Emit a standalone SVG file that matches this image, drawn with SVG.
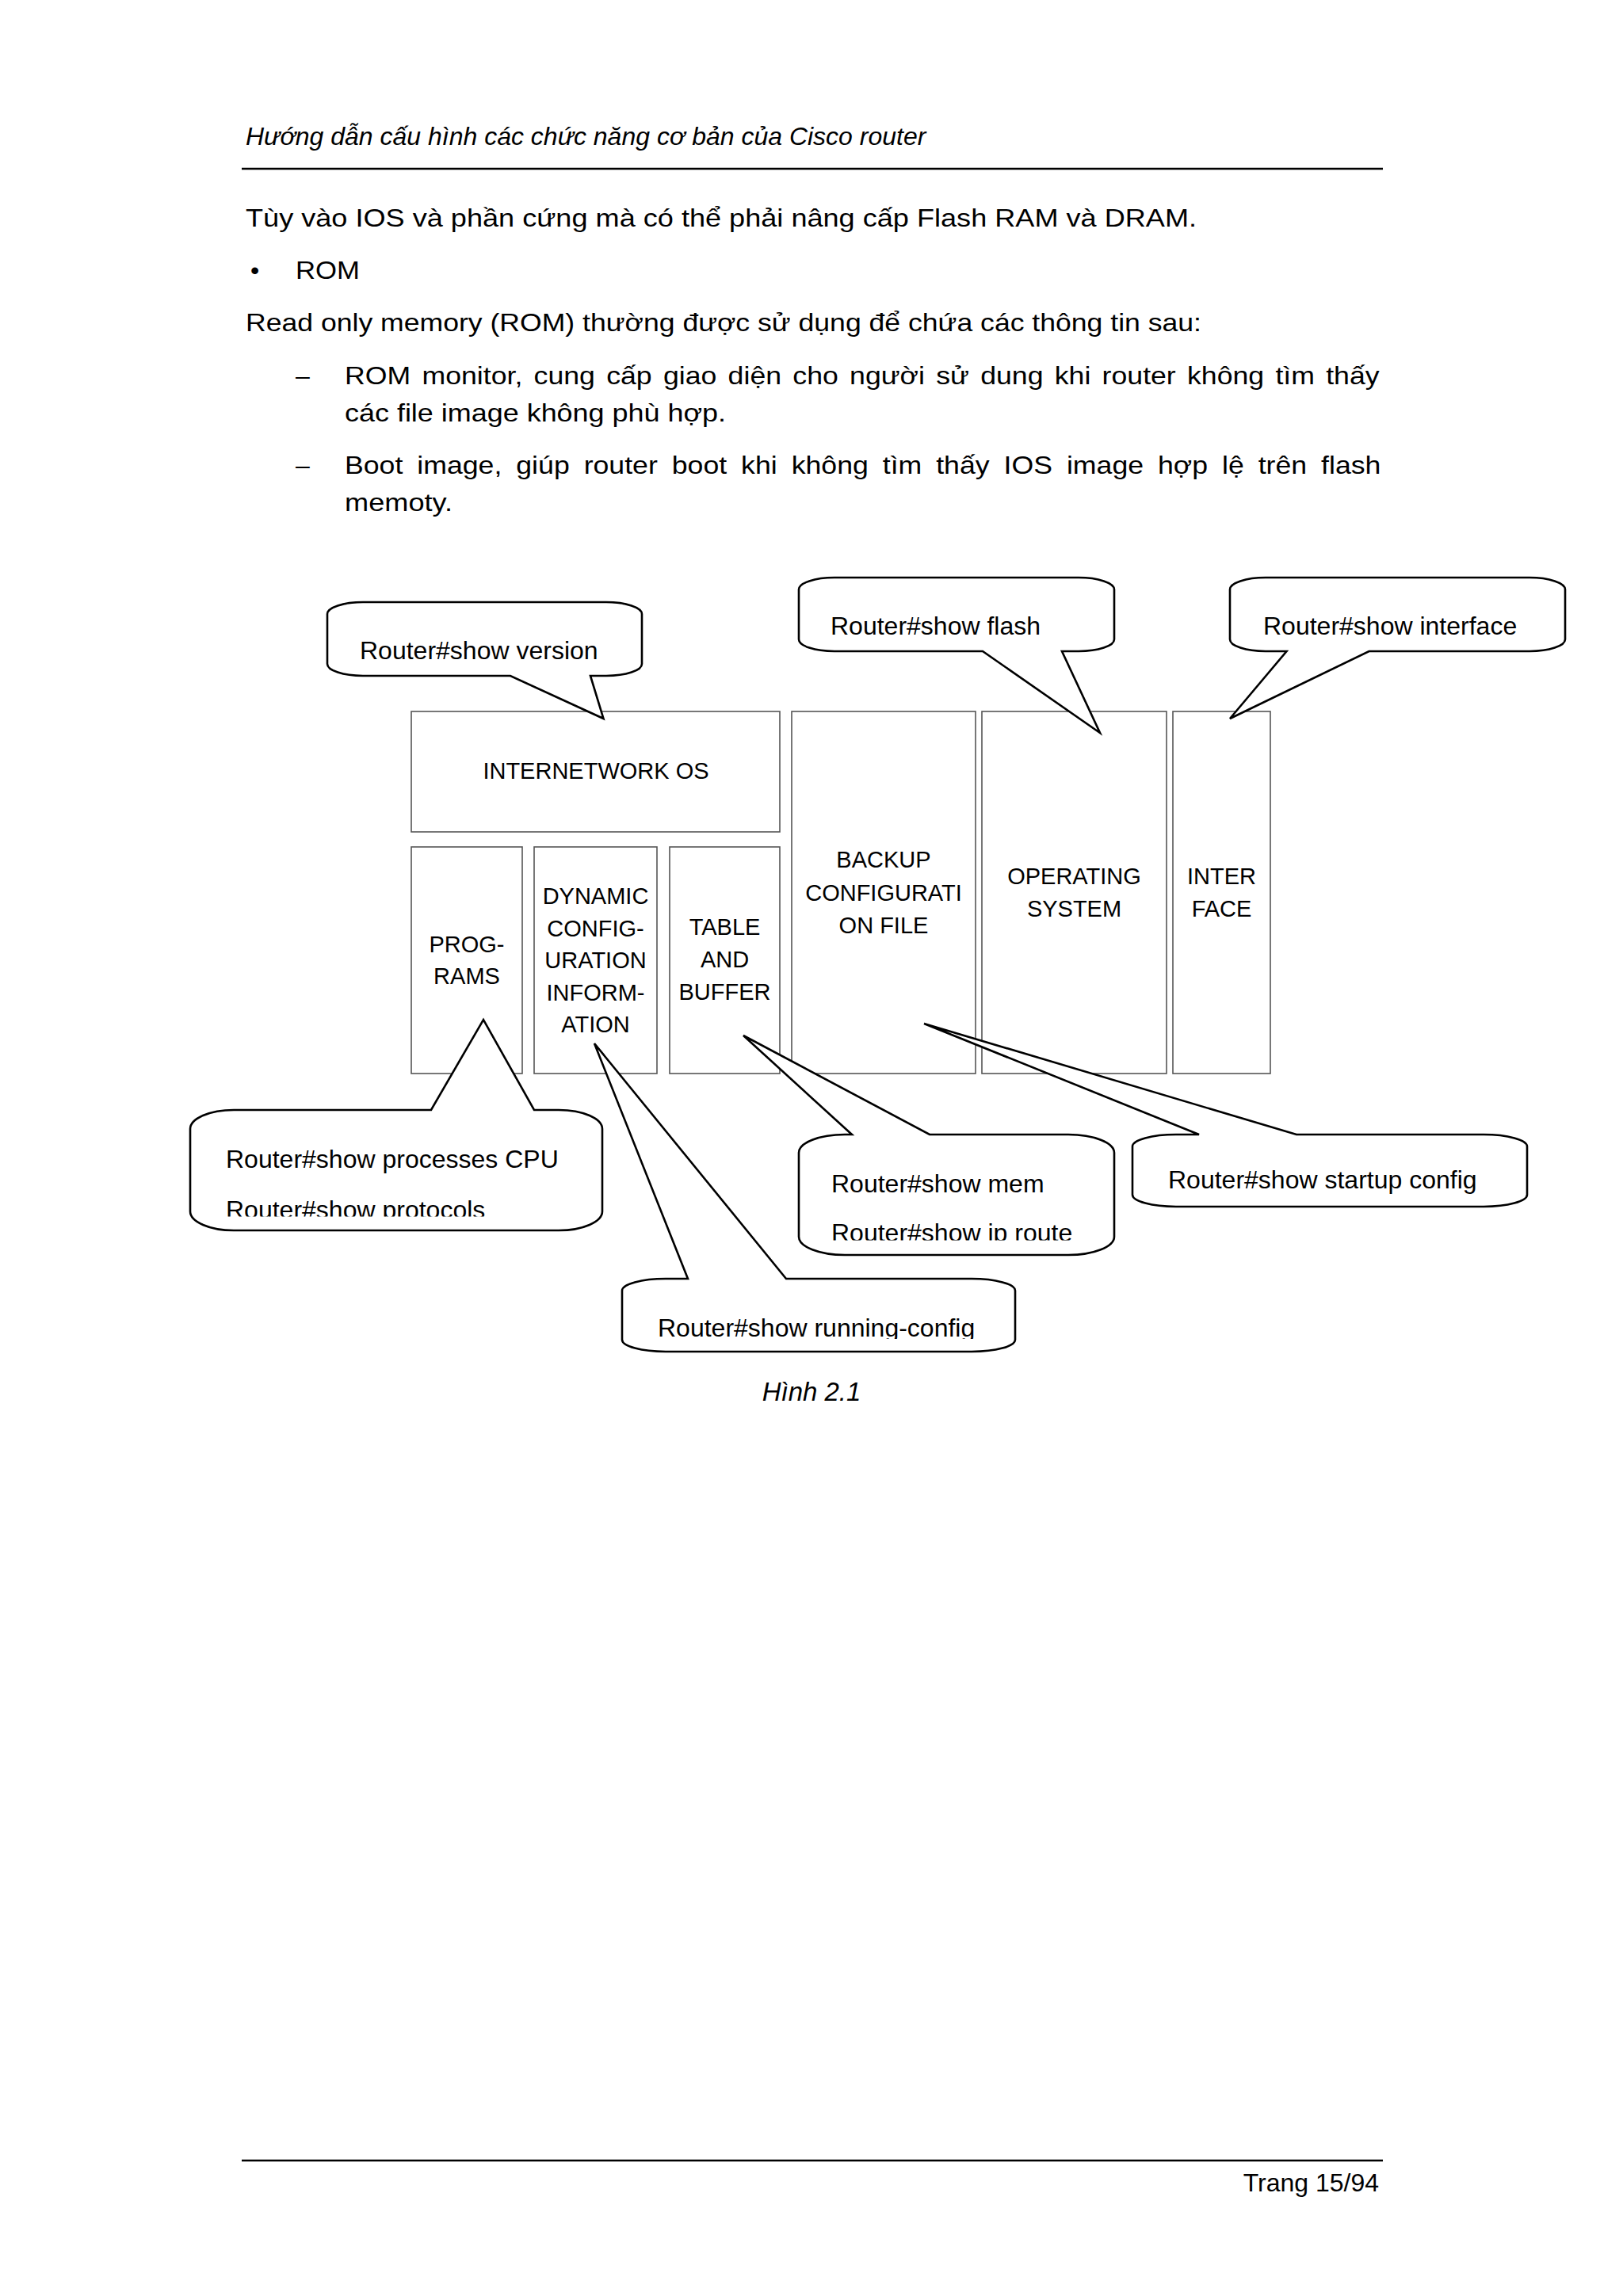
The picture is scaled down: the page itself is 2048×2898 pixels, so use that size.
<svg xmlns="http://www.w3.org/2000/svg" width="2048" height="2898" viewBox="0 0 2048 2898">
<style>
text{font-family:"Liberation Sans",Arial,sans-serif;fill:#000}
.body{font-size:32px}
.it{font-size:32px;font-style:italic}
.lbl{font-size:29px;text-anchor:middle}
.co{font-size:32px}
.box{fill:#fff;stroke:#555;stroke-width:1.6}
.call{fill:#fff;stroke:#000;stroke-width:2.6;stroke-linejoin:miter}
.rule{stroke:#000;stroke-width:2.6}
</style>
<defs>
<clipPath id="cpProc"><rect x="240" y="1401" width="520" height="134.5"/></clipPath>
<clipPath id="cpMem"><rect x="1008" y="1432" width="398" height="133.5"/></clipPath>
<clipPath id="cpStart"><rect x="1429" y="1432" width="498" height="75"/></clipPath>
<clipPath id="cpRun"><rect x="785" y="1614" width="496" height="76"/></clipPath>
</defs>
<rect width="2048" height="2898" fill="#fff"/>

<g id="page-text">
<text class="it" x="310" y="183">Hướng dẫn cấu hình các chức năng cơ bản của Cisco router</text>
<line class="rule" x1="305" y1="213" x2="1745" y2="213"/>
<text class="body" x="310" y="286" textLength="1200" lengthAdjust="spacingAndGlyphs">Tùy vào IOS và phần cứng mà có thể phải nâng cấp Flash RAM và DRAM.</text>
<text class="body" x="316" y="352">•</text>
<text class="body" x="373" y="352" textLength="81" lengthAdjust="spacingAndGlyphs">ROM</text>
<text class="body" x="310" y="418" textLength="1206" lengthAdjust="spacingAndGlyphs">Read only memory (ROM) thường được sử dụng để chứa các thông tin sau:</text>
<text class="body" x="373" y="485">–</text>
<text class="body" transform="translate(435,485) scale(1.115,1)" word-spacing="3.9">ROM monitor, cung cấp giao diện cho người sử dung khi router không tìm thấy</text>
<text class="body" x="435" y="532" textLength="481" lengthAdjust="spacingAndGlyphs">các file image không phù hợp.</text>
<text class="body" x="373" y="598">–</text>
<text class="body" transform="translate(435,598) scale(1.115,1)" word-spacing="7.2">Boot image, giúp router boot khi không tìm thấy IOS image hợp lệ trên flash</text>
<text class="body" x="435" y="645" textLength="136" lengthAdjust="spacingAndGlyphs">memoty.</text>
<text class="it" x="1024" y="1768" text-anchor="middle" style="font-size:33px">Hình 2.1</text>
<line class="rule" x1="305" y1="2727" x2="1745" y2="2727"/>
<text class="body" x="1740" y="2766" text-anchor="end">Trang 15/94</text>
</g>

<g id="nodes">
<g id="internetwork-os">
<rect class="box" x="519" y="898" width="465" height="152"/>
<text class="lbl" x="752" y="983">INTERNETWORK OS</text>
</g>
<g id="programs">
<rect class="box" x="519" y="1069" width="140" height="286"/>
<text class="lbl" x="589" y="1202">PROG-</text>
<text class="lbl" x="589" y="1242">RAMS</text>
</g>
<g id="dynamic-config">
<rect class="box" x="674" y="1069" width="155" height="286"/>
<text class="lbl" x="751.5" y="1141">DYNAMIC</text>
<text class="lbl" x="751.5" y="1181.5">CONFIG-</text>
<text class="lbl" x="751.5" y="1222">URATION</text>
<text class="lbl" x="751.5" y="1262.5">INFORM-</text>
<text class="lbl" x="751.5" y="1303">ATION</text>
</g>
<g id="table-buffer">
<rect class="box" x="845" y="1069" width="139" height="286"/>
<text class="lbl" x="914.5" y="1180">TABLE</text>
<text class="lbl" x="914.5" y="1221">AND</text>
<text class="lbl" x="914.5" y="1262">BUFFER</text>
</g>
<g id="backup-config">
<rect class="box" x="999" y="898" width="232" height="457"/>
<text class="lbl" x="1115" y="1095">BACKUP</text>
<text class="lbl" x="1115" y="1136.5">CONFIGURATI</text>
<text class="lbl" x="1115" y="1177.5">ON FILE</text>
</g>
<g id="operating-system">
<rect class="box" x="1239" y="898" width="233" height="457"/>
<text class="lbl" x="1355.5" y="1116">OPERATING</text>
<text class="lbl" x="1355.5" y="1157">SYSTEM</text>
</g>
<g id="interface">
<rect class="box" x="1480" y="898" width="123" height="457"/>
<text class="lbl" x="1541.5" y="1116">INTER</text>
<text class="lbl" x="1541.5" y="1157">FACE</text>
</g>
</g>

<g id="connectors">
<g id="callout-version">
<path class="call" d="M458,760 H765 A45,15 0 0 1 810,775 V838 A45,15 0 0 1 765,853 H745 L761.5,907 L644,853 H458 A45,15 0 0 1 413,838 V775 A45,15 0 0 1 458,760 Z"/>
<text class="co" x="454" y="832">Router#show version</text>
</g>
<g id="callout-flash">
<path class="call" d="M1053,729 H1361 A45,15 0 0 1 1406,744 V807 A45,15 0 0 1 1361,822 H1340 L1388,925 L1240,822 H1053 A45,15 0 0 1 1008,807 V744 A45,15 0 0 1 1053,729 Z"/>
<text class="co" x="1048" y="801">Router#show flash</text>
</g>
<g id="callout-interface">
<path class="call" d="M1597,729 H1930 A45,15 0 0 1 1975,744 V807 A45,15 0 0 1 1930,822 H1727.5 L1552,907 L1623.5,822 H1597 A45,15 0 0 1 1552,807 V744 A45,15 0 0 1 1597,729 Z"/>
<text class="co" x="1594" y="801">Router#show interface</text>
</g>
<g id="callout-processes">
<path class="call" d="M295,1401 H544 L610,1287 L674,1401 H705 A55,24 0 0 1 760,1425 V1529 A55,24 0 0 1 705,1553 H295 A55,24 0 0 1 240,1529 V1425 A55,24 0 0 1 295,1401 Z"/>
<g clip-path="url(#cpProc)">
<text class="co" x="285" y="1474">Router#show processes CPU</text>
<text class="co" x="285" y="1537.5">Router#show protocols</text>
</g>
</g>
<g id="callout-mem">
<path class="call" d="M1066,1432 H1075 L938,1307 L1173,1432 H1348 A58,23 0 0 1 1406,1455 V1561 A58,23 0 0 1 1348,1584 H1066 A58,23 0 0 1 1008,1561 V1455 A58,23 0 0 1 1066,1432 Z"/>
<g clip-path="url(#cpMem)">
<text class="co" x="1049" y="1505">Router#show mem</text>
<text class="co" x="1049" y="1567">Router#show ip route</text>
</g>
</g>
<g id="callout-startup">
<path class="call" d="M1484,1432 H1513 L1166,1292 L1636,1432 H1872 A55,15 0 0 1 1927,1447 V1508 A55,15 0 0 1 1872,1523 H1484 A55,15 0 0 1 1429,1508 V1447 A55,15 0 0 1 1484,1432 Z"/>
<g clip-path="url(#cpStart)">
<text class="co" x="1474" y="1500">Router#show startup config</text>
</g>
</g>
<g id="callout-running">
<path class="call" d="M840,1614 H868 L750,1317 L992,1614 H1226 A55,15 0 0 1 1281,1629 V1691 A55,15 0 0 1 1226,1706 H840 A55,15 0 0 1 785,1691 V1629 A55,15 0 0 1 840,1614 Z"/>
<g clip-path="url(#cpRun)">
<text class="co" x="830" y="1687">Router#show running-config</text>
</g>
</g>
</g>
</svg>
